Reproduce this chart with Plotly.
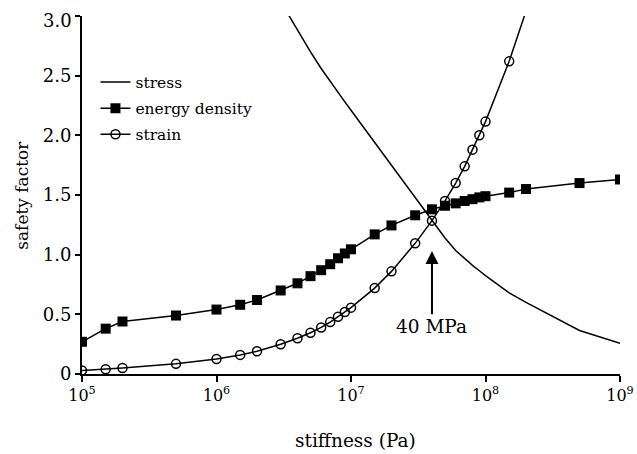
import plotly.graph_objects as go
import numpy as np

# stiffness values (Pa)
stiffness = [1e5, 1.5e5, 2e5, 5e5, 1e6, 1.5e6, 2e6, 3e6, 4e6, 5e6, 6e6, 7e6, 8e6, 9e6,
             1e7, 1.5e7, 2e7, 3e7, 4e7, 5e7, 6e7, 7e7, 8e7, 9e7, 1e8, 1.5e8, 2e8, 5e8, 1e9]

energy_density = [0.27, 0.38, 0.44, 0.49, 0.54, 0.58, 0.62, 0.70, 0.76, 0.82, 0.87, 0.92, 0.97, 1.01,
                  1.045, 1.17, 1.245, 1.33, 1.38, 1.41, 1.43, 1.45, 1.465, 1.48, 1.49, 1.52, 1.55, 1.60, 1.63]

strain_x = [1e5, 1.5e5, 2e5, 5e5, 1e6, 1.5e6, 2e6, 3e6, 4e6, 5e6, 6e6, 7e6, 8e6, 9e6,
            1e7, 1.5e7, 2e7, 3e7, 4e7, 5e7, 6e7, 7e7, 8e7, 9e7, 1e8, 1.5e8]
strain = [0.03, 0.04, 0.05, 0.085, 0.125, 0.16, 0.19, 0.25, 0.30, 0.346, 0.39, 0.435, 0.48, 0.52,
          0.556, 0.72, 0.86, 1.095, 1.285, 1.45, 1.60, 1.74, 1.88, 2.0, 2.115, 2.62]
strain_line_x = [1.5e8, 2e8]
strain_line = [2.62, 3.04]

stress_x = [3e6, 4e6, 5e6, 6e6, 7e6, 8e6, 9e6, 1e7, 1.5e7, 2e7, 3e7, 4e7, 5e7,
            6e7, 7e7, 8e7, 9e7, 1e8, 1.5e8, 2e8, 5e8, 1e9]
stress = [3.12, 2.88, 2.70, 2.56, 2.45, 2.36, 2.28, 2.21, 1.94, 1.755, 1.48, 1.285, 1.14,
          1.035, 0.965, 0.91, 0.865, 0.825, 0.68, 0.60, 0.365, 0.257]

x_tickvals = [1e5, 1e6, 1e7, 1e8, 1e9]
x_ticktext = ["10<sup>5</sup>", "10<sup>6</sup>", "10<sup>7</sup>", "10<sup>8</sup>", "10<sup>9</sup>"]
y_tickvals = [0, 0.5, 1.0, 1.5, 2.0, 2.5, 3.0]
y_ticktext = ["0", "0.5", "1.0", "1.5", "2.0", "2.5", "3.0"]

SERIF = "DejaVu Serif"

fig = go.Figure()
fig.add_trace(go.Scatter(x=stress_x, y=stress, mode="lines", name="stress", legendgroup="a",
                         line=dict(color="black", width=1.5)))
fig.add_trace(go.Scatter(x=stiffness, y=energy_density, mode="lines+markers", name="energy density",
                         legendgroup="b",
                         line=dict(color="black", width=1.5),
                         marker=dict(symbol="square", size=10, color="black")))
fig.add_trace(go.Scatter(x=strain_x, y=strain, mode="lines+markers", name="strain", legendgroup="c",
                         line=dict(color="black", width=1.5),
                         marker=dict(symbol="circle-open", size=9, color="black",
                                     line=dict(width=1.5, color="black"))))
fig.add_trace(go.Scatter(x=strain_line_x, y=strain_line, mode="lines", showlegend=False,
                         legendgroup="c", line=dict(color="black", width=1.5)))

fig.add_annotation(x=np.log10(4e7), y=1.03, ax=np.log10(4e7), ay=0.40,
                   axref="x", ayref="y", xref="x", yref="y",
                   text="40 MPa", showarrow=True, arrowhead=2, arrowsize=1.3,
                   arrowwidth=2, arrowcolor="black",
                   font=dict(family=SERIF, size=18.5, color="black"))

# top y tick label nudged down slightly (as in the reference)
fig.add_annotation(x=0, y=y_tickvals[-1], xref="paper", yref="y", xanchor="right", yanchor="middle",
                   xshift=-8, yshift=-4, text=y_ticktext[-1], showarrow=False,
                   font=dict(family=SERIF, size=18, color="black"))

# axis titles as annotations
fig.add_annotation(x=0.509, y=-0.187, xref="paper", yref="paper", xanchor="center", yanchor="middle",
                   text="stiffness (Pa)", showarrow=False,
                   font=dict(family=SERIF, size=18.5, color="black"))
fig.add_annotation(x=-0.112, y=0.5, xref="paper", yref="paper", xanchor="center", yanchor="middle",
                   text="safety factor", showarrow=False, textangle=-90,
                   font=dict(family=SERIF, size=17, color="black"))

fig.update_layout(
    width=637, height=454,
    margin=dict(l=82, r=17, t=16, b=80),
    paper_bgcolor="white", plot_bgcolor="white",
    font=dict(family=SERIF, size=18, color="black"),
    showlegend=True,
    legend=dict(x=0.025, y=0.862, xanchor="left", yanchor="top",
                font=dict(family=SERIF, size=15.5, color="black"),
                traceorder="grouped",
                bgcolor="rgba(0,0,0,0)", borderwidth=0, tracegroupgap=3),
    xaxis=dict(type="log", range=[5, 9], showgrid=False, zeroline=False, automargin=False,
               showline=True, linecolor="black", linewidth=2, ticklabeloverflow="allow",
               ticks="outside", ticklen=6, tickwidth=2, tickcolor="black",
               tickvals=x_tickvals, ticktext=x_ticktext,
               tickfont=dict(family=SERIF, size=16, color="black")),
    yaxis=dict(range=[0, 3], showgrid=False, zeroline=False, automargin=False,
               showline=True, linecolor="black", linewidth=2, ticklabeloverflow="allow",
               ticks="outside", ticklen=5, tickwidth=2, tickcolor="black",
               tickvals=y_tickvals, ticktext=y_ticktext[:-1] + [""],
               tickfont=dict(family=SERIF, size=18, color="black")),
)

fig.write_html("out.html", config={"displayModeBar": False},
               post_script="document.body.style.margin='0';document.body.style.overflow='hidden';")
